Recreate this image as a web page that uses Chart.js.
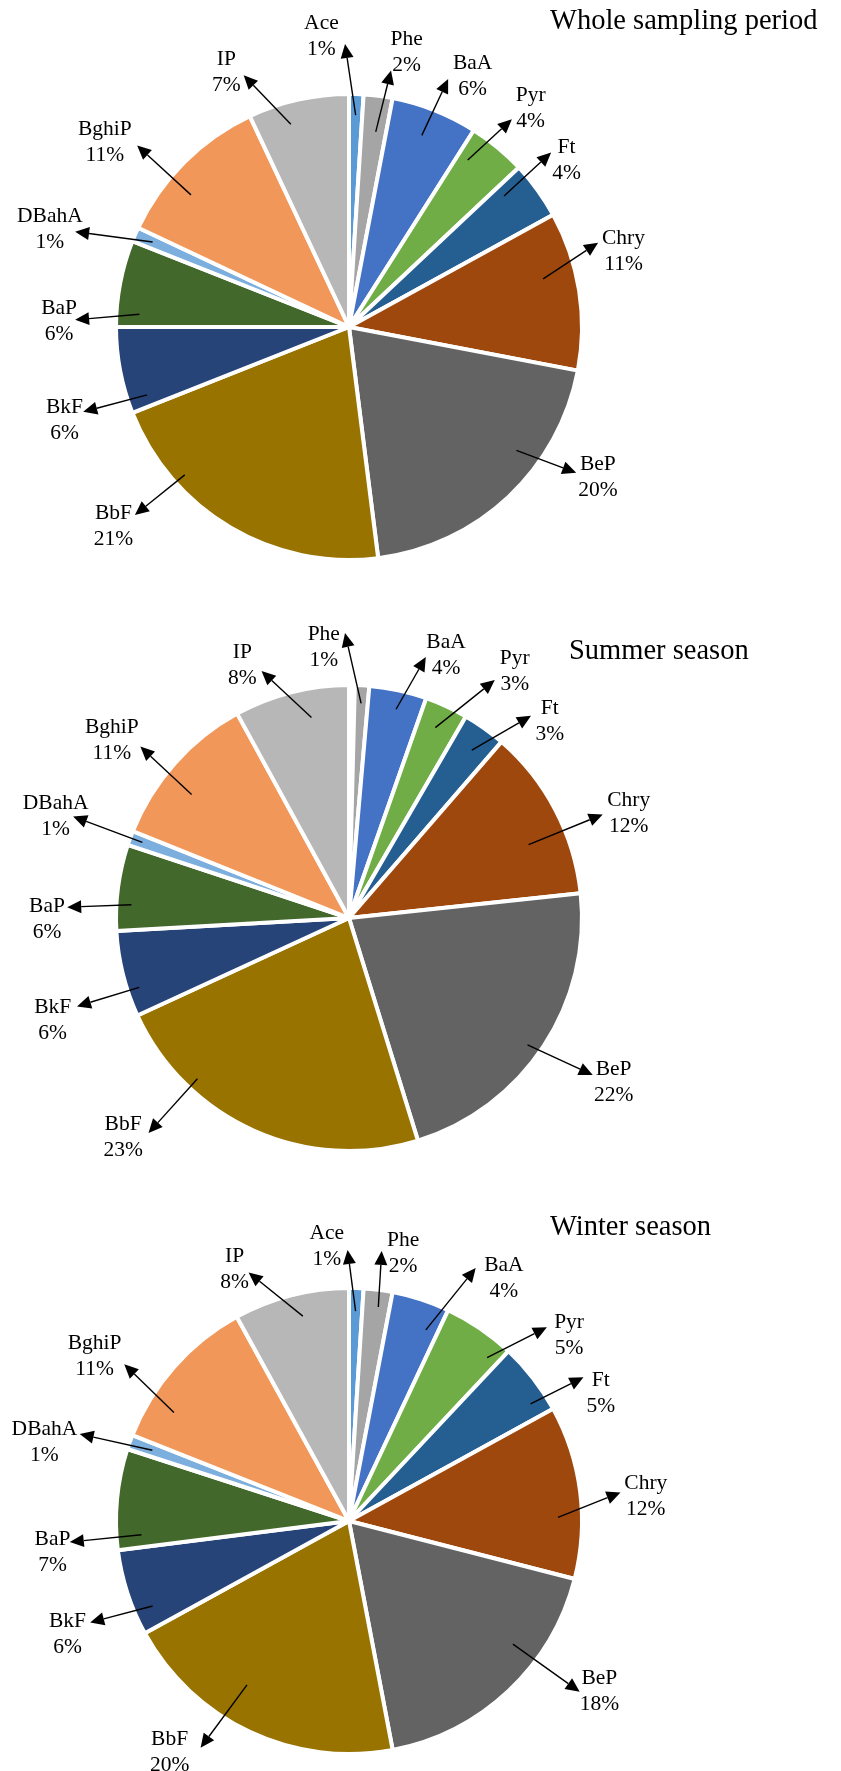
<!DOCTYPE html>
<html>
<head>
<meta charset="utf-8">
<script src="https://cdn.jsdelivr.net/npm/chart.js@4.4.0/dist/chart.umd.min.js"></script>
<style>
  html, body { margin: 0; padding: 0; background: #fff; }
  #page { position: relative; width: 841px; height: 1771px; overflow: hidden; }
  #page canvas { position: absolute; left: 0; }
</style>
</head>
<body>
<div id="page">
  <canvas id="pie-whole" width="841" height="590" style="top:0"></canvas>
  <canvas id="pie-summer" width="841" height="590" style="top:590px"></canvas>
  <canvas id="pie-winter" width="841" height="591" style="top:1180px"></canvas>
</div>
<script>
// ---------------------- DATA -------------------------
const compounds = ['Ace', 'Phe', 'BaA', 'Pyr', 'Ft', 'Chry', 'BeP', 'BbF', 'BkF', 'BaP', 'DBahA', 'BghiP', 'IP'];

// share of total PAHs, %
const wholeShare  = [1, 2, 6, 4, 4, 11, 20, 21, 6, 6, 1, 11, 7];
const summerShare = [0.4, 1, 4, 3, 3, 12, 22, 23, 6, 6, 1, 11, 8];
const winterShare = [1, 2, 4, 5, 5, 12, 18, 20, 6, 7, 1, 11, 8];

const chartTitles = ['Whole sampling period', 'Summer season', 'Winter season'];

// ---------------------- STYLE -------------------------
const sliceColors = {
      Ace: '#5B9BD5', Phe: '#A5A5A5', BaA: '#4472C4', Pyr: '#70AD47', Ft: '#255E91',
      Chry: '#9E480E', BeP: '#636363', BbF: '#997300', BkF: '#264478', BaP: '#43682B',
      DBahA: '#7CAFDD', BghiP: '#F1975A', IP: '#B7B7B7'
};

const PIE_CX = 349;      // pie centre, px from left
const PIE_R = 233;       // outer radius (half of the white border eats into it)
const LABEL_FONT = '21.5px "Liberation Serif", "Times New Roman", serif';
const TITLE_FONT = '28.5px "Liberation Serif", "Times New Roman", serif';

// callouts: [tailDeg, tailR, headDeg, headR, labelDeg, labelR]
// degrees clockwise from 12 o'clock, radii in px from the pie centre
const wholeCallouts = [
      [1.2, 212, 359.2, 283, 354.6, 293],
      [8.3, 197, 9.3, 260, 11.8, 282],
      [20.8, 205, 21.8, 267, 26.1, 281],
      [32.1, 205, 38.1, 264, 39.6, 285],
      [46.7, 203, 49.2, 267, 52.3, 275],
      [76.1, 200, 71.3, 263, 74.4, 285],
      [126.4, 208, 122.7, 270, 120.9, 290],
      [228.0, 221, 228.7, 285, 229.9, 308],
      [249.7, 213, 252.3, 279, 252.1, 299],
      [273.5, 210, 271.5, 274, 271.4, 290],
      [288.8, 214, 289.2, 290, 288.3, 315],
      [309.9, 206, 310.6, 279, 307.3, 307],
      [344.0, 211, 337.3, 273, 334.4, 284]
];
const summerCallouts = [
      null,
      [5.8, 215, 359.2, 285, 354.7, 273],
      [12.7, 214, 16.4, 272, 20.2, 281],
      [24.4, 209, 31.5, 279, 33.8, 298],
      [36.2, 208, 42.0, 272, 45.4, 282],
      [67.8, 194, 67.8, 274, 69.3, 299],
      [125.4, 219, 122.8, 290, 121.7, 311],
      [223.3, 221, 223.0, 294, 226.0, 314],
      [251.7, 221, 252.0, 286, 251.2, 313],
      [273.5, 218, 272.2, 282, 270.0, 302],
      [290.9, 220, 290.2, 294, 289.4, 311],
      [308.1, 200, 309.4, 270, 307.0, 297],
      [349.4, 204, 340.5, 262, 337.2, 275]
];
const winterCallouts = [
      [3.0, 210, 359.7, 271, 355.4, 277],
      [10.7, 216, 6.9, 272, 11.4, 274],
      [21.9, 206, 26.6, 283, 32.4, 289],
      [40.5, 214, 45.6, 277, 49.6, 289],
      [57.2, 216, 58.5, 275, 62.8, 283],
      [89.0, 209, 84.0, 273, 84.9, 298],
      [126.9, 205, 126.5, 287, 124.0, 302],
      [211.9, 193, 213.2, 271, 217.9, 292],
      [246.6, 214, 248.6, 278, 248.3, 303],
      [266.2, 208, 265.7, 280, 264.3, 298],
      [287.6, 209, 287.9, 283, 284.8, 315],
      [301.8, 206, 304.9, 274, 303.2, 304],
      [347.3, 210, 338.0, 268, 335.7, 278]
];

// ---------------------- HELPERS -------------------------
function polar(cx, cy, deg, r) {
      const a = (deg - 90) * Math.PI / 180;
      return { x: cx + r * Math.cos(a), y: cy + r * Math.sin(a) };
}

function drawArrow(ctx, x1, y1, x2, y2) {
      const ang = Math.atan2(y2 - y1, x2 - x1);
      const len = 14, half = 6.5;
      const bx = x2 - len * Math.cos(ang);
      const by = y2 - len * Math.sin(ang);
      ctx.beginPath();
      ctx.moveTo(x1, y1);
      ctx.lineTo(bx, by);
      ctx.stroke();
      ctx.beginPath();
      ctx.moveTo(x2, y2);
      ctx.lineTo(bx + half * Math.sin(ang), by - half * Math.cos(ang));
      ctx.lineTo(bx - half * Math.sin(ang), by + half * Math.cos(ang));
      ctx.closePath();
      ctx.fill();
}

// arrows + two-line labels outside the slices, and the caption at top right
function makeCallouts(title, titleAt, callouts) {
      return {
            id: 'callouts',
            afterDatasetsDraw(chart) {
                  const ctx = chart.ctx;
                  const arcs = chart.getDatasetMeta(0).data;
                  const shares = chart.data.datasets[0].data;
                  const cx = arcs[0].x, cy = arcs[0].y;

                  ctx.save();
                  ctx.strokeStyle = '#000';
                  ctx.fillStyle = '#000';
                  ctx.lineWidth = 1.4;

                  arcs.forEach((arc, i) => {
                        const c = callouts[i];
                        if (!c) return;
                        // keep the arrow tail inside its own slice
                        const s = arc.startAngle * 180 / Math.PI + 90;
                        const e = arc.endAngle * 180 / Math.PI + 90;
                        const pad = Math.min(3, (e - s) / 2);
                        const tailDeg = Math.min(Math.max(c[0], s + pad), e - pad);
                        const tail = polar(cx, cy, tailDeg, c[1]);
                        const head = polar(cx, cy, c[2], c[3]);
                        drawArrow(ctx, tail.x, tail.y, head.x, head.y);

                        const lab = polar(cx, cy, c[4], c[5]);
                        ctx.font = LABEL_FONT;
                        ctx.textAlign = 'center';
                        ctx.textBaseline = 'alphabetic';
                        ctx.fillText(chart.data.labels[i], lab.x, lab.y - 6);
                        ctx.fillText(`${shares[i]}%`, lab.x, lab.y + 20);
                  });

                  ctx.font = TITLE_FONT;
                  ctx.textAlign = 'left';
                  ctx.textBaseline = 'alphabetic';
                  ctx.fillText(title, cx + titleAt[0], cy + titleAt[1]);
                  ctx.restore();
            }
      };
}

function buildPie(canvasId, shares, centreY, title, titleAt, callouts, blank = []) {
      const canvas = document.getElementById(canvasId);
      const fills = compounds.map(c => blank.includes(c) ? '#FFFFFF' : sliceColors[c]);

      return new Chart(canvas, {
            type: 'pie',
            data: {
                  labels: compounds,
                  datasets: [{
                        data: shares,
                        backgroundColor: fills,
                        borderColor: '#FFFFFF',
                        borderWidth: 4,
                        radius: PIE_R
                  }]
            },
            options: {
                  responsive: false,
                  animation: false,
                  events: [],
                  layout: {
                        padding: {
                              left: 0,
                              right: canvas.width - 2 * PIE_CX,
                              top: 2 * centreY - canvas.height,
                              bottom: 0
                        }
                  },
                  plugins: {
                        legend: { display: false },
                        tooltip: { enabled: false }
                  }
            },
            plugins: [makeCallouts(title, titleAt, callouts)]
      });
}

buildPie('pie-whole', wholeShare, 327, chartTitles[0], [201, -298], wholeCallouts);
buildPie('pie-summer', summerShare, 328, chartTitles[1], [220, -259], summerCallouts, ['Ace']);
buildPie('pie-winter', winterShare, 341, chartTitles[2], [201, -286], winterCallouts);
</script>
</body>
</html>
